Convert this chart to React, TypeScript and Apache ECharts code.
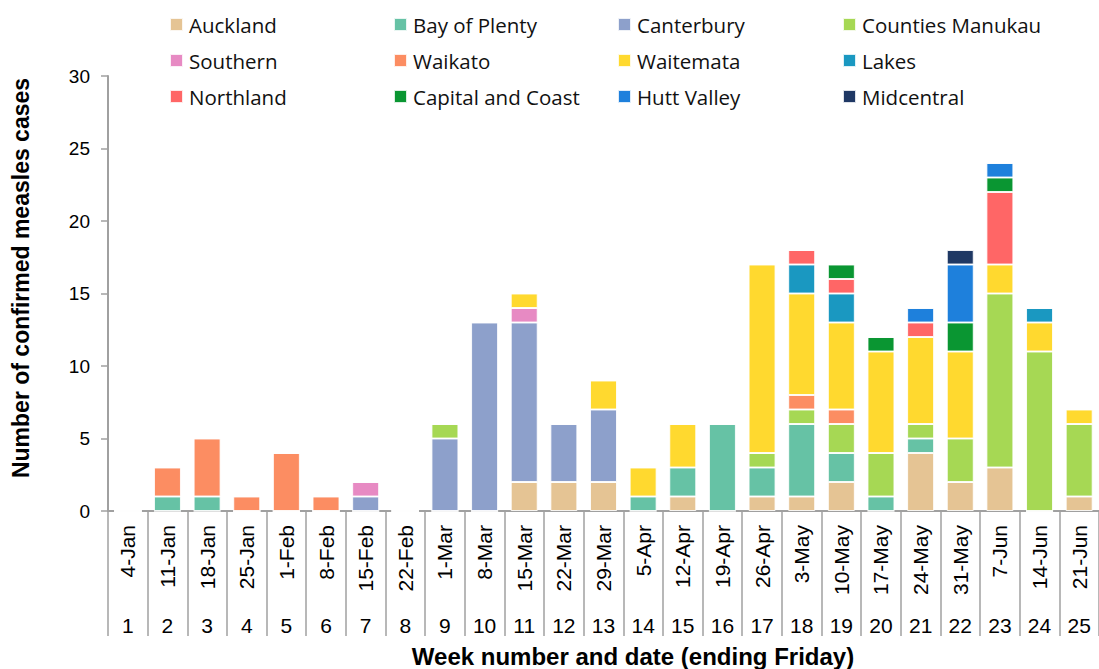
import React, { useEffect, useRef } from "react";
import * as echarts from "echarts";

const dates = ["4-Jan","11-Jan","18-Jan","25-Jan","1-Feb","8-Feb","15-Feb","22-Feb","1-Mar","8-Mar","15-Mar","22-Mar","29-Mar","5-Apr","12-Apr","19-Apr","26-Apr","3-May","10-May","17-May","24-May","31-May","7-Jun","14-Jun","21-Jun"];
const weeks = ["1","2","3","4","5","6","7","8","9","10","11","12","13","14","15","16","17","18","19","20","21","22","23","24","25"];

const auckland =        [0,0,0,0,0,0,0,0,0,0,2,2,2,0,1,0,1,1,2,0,4,2,3,0,1];
const bayOfPlenty =     [0,1,1,0,0,0,0,0,0,0,0,0,0,1,2,6,2,5,2,1,1,0,0,0,0];
const canterbury =      [0,0,0,0,0,0,1,0,5,13,11,4,5,0,0,0,0,0,0,0,0,0,0,0,0];
const countiesManukau = [0,0,0,0,0,0,0,0,1,0,0,0,0,0,0,0,1,1,2,3,1,3,12,11,5];
const southern =        [0,0,0,0,0,0,1,0,0,0,1,0,0,0,0,0,0,0,0,0,0,0,0,0,0];
const waikato =         [0,2,4,1,4,1,0,0,0,0,0,0,0,0,0,0,0,1,1,0,0,0,0,0,0];
const waitemata =       [0,0,0,0,0,0,0,0,0,0,1,0,2,2,3,0,13,7,6,7,6,6,2,2,1];
const lakes =           [0,0,0,0,0,0,0,0,0,0,0,0,0,0,0,0,0,2,2,0,0,0,0,1,0];
const northland =       [0,0,0,0,0,0,0,0,0,0,0,0,0,0,0,0,0,1,1,0,1,0,5,0,0];
const capitalCoast =    [0,0,0,0,0,0,0,0,0,0,0,0,0,0,0,0,0,0,1,1,0,2,1,0,0];
const huttValley =      [0,0,0,0,0,0,0,0,0,0,0,0,0,0,0,0,0,0,0,0,1,4,1,0,0];
const midcentral =      [0,0,0,0,0,0,0,0,0,0,0,0,0,0,0,0,0,0,0,0,0,1,0,0,0];

const seriesNames = ["Auckland","Bay of Plenty","Canterbury","Counties Manukau","Southern","Waikato","Waitemata","Lakes","Northland","Capital and Coast","Hutt Valley","Midcentral"];
const seriesData = [auckland, bayOfPlenty, canterbury, countiesManukau, southern, waikato, waitemata, lakes, northland, capitalCoast, huttValley, midcentral];
const seriesColors = ["#E5C494","#66C2A5","#8DA0CB","#A6D854","#E78AC3","#FC8D62","#FFD92F","#1A98C1","#FF6666","#0A9632","#1E80DC","#1F3864"];

const legendColumns = [
  ["Auckland","Southern","Northland"],
  ["Bay of Plenty","Waikato","Capital and Coast"],
  ["Canterbury","Waitemata","Hutt Valley"],
  ["Counties Manukau","Lakes","Midcentral"],
];
const legendLefts = [169, 393, 617, 842];

const yTitle = "Number of confirmed measles cases";
const xTitle = "Week number and date (ending Friday)";

export default function App() {
  const ref = useRef<HTMLDivElement>(null);
  useEffect(() => {
    if (!ref.current) return;
    const chart = echarts.init(ref.current, null, { renderer: "svg" });
    const axisColor = "#a0a0a0";
    const font = "Liberation Sans";
    chart.setOption({
      animation: false,
      backgroundColor: "#ffffff",
      legend: legendColumns.map((col, i) => ({
        data: col,
        orient: "vertical",
        left: legendLefts[i],
        top: 14,
        padding: 0,
        itemGap: 15,
        itemWidth: 13,
        itemHeight: 13,
        icon: "rect",
        selectedMode: false,
        textStyle: { fontFamily: "Open Sans", fontSize: 20.5, color: "#111", lineHeight: 20, padding: [0, 0, 0, 1] },
      })),
      grid: { left: 108, top: 76, right: -9, bottom: 158, containLabel: false },
      xAxis: [
        {
          type: "category",
          data: dates,
          position: "bottom",
          axisLine: { show: true, lineStyle: { color: axisColor, width: 2 } },
          axisTick: { show: true, interval: 0, length: 125, lineStyle: { color: axisColor, width: 1.5 } },
          axisLabel: { interval: 0, rotate: 90, margin: 14, fontSize: 21, fontFamily: font, color: "#000" },
        },
        {
          type: "category",
          data: weeks,
          position: "bottom",
          axisLine: { show: false },
          axisTick: { show: false },
          axisLabel: { interval: 0, margin: 104, fontSize: 21, lineHeight: 21, fontFamily: font, color: "#000" },
        },
      ],
      yAxis: {
        type: "value",
        min: 0,
        max: 30,
        interval: 5,
        axisLine: { show: true, lineStyle: { color: axisColor, width: 2 } },
        axisTick: { show: true, length: 7, lineStyle: { color: axisColor, width: 1.5 } },
        axisLabel: { margin: 18, fontSize: 19, fontFamily: font, color: "#000" },
        splitLine: { show: false },
      },
      series: seriesNames.map((name, i) => ({
        name,
        type: "bar",
        stack: "total",
        xAxisIndex: 0,
        barWidth: 27,
        data: seriesData[i],
        itemStyle: { color: seriesColors[i], borderColor: "rgba(255,255,255,0.85)", borderWidth: 1 },
      })),
      graphic: [
        {
          type: "text",
          x: 21,
          y: 278,
          rotation: Math.PI / 2,
          style: { text: yTitle, fontFamily: font, fontWeight: "bold", fontSize: 23, fill: "#000", align: "center", verticalAlign: "middle" },
        },
        {
          type: "text",
          x: 633,
          y: 668,
          style: { text: xTitle, fontFamily: font, fontWeight: "bold", fontSize: 24, fill: "#000", align: "center", verticalAlign: "bottom" },
        },
      ],
    });
    return () => chart.dispose();
  }, []);
  return <div ref={ref} style={{ position: "absolute", left: 0, top: 0, width: 1099, height: 669 }} />;
}
